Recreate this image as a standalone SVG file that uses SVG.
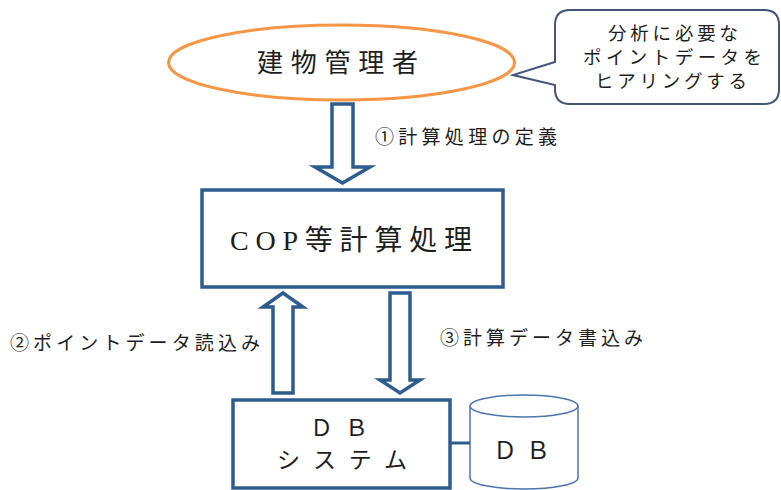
<svg xmlns="http://www.w3.org/2000/svg" width="781" height="490" viewBox="0 0 781 490">
<style>
.t{font-family:"Noto Sans CJK JP","Noto Sans",sans-serif;fill:#1e1e1e;}
.s{font-family:"Liberation Serif","Noto Sans CJK JP",serif;fill:#1e1e1e;}
.box{fill:#fff;stroke:#2E5C8E;stroke-width:3.5;}
.arr{fill:#fff;stroke:#2E5C8E;stroke-width:3.5;stroke-linejoin:miter;}
</style>
<rect width="781" height="490" fill="#fff"/>
<g id="manager">
<ellipse cx="341.5" cy="62.5" rx="173" ry="37.5" fill="#fff" stroke="#F79646" stroke-width="3"/>
<text class="t" x="257" y="72" font-size="26" textLength="161" lengthAdjust="spacing">建物管理者</text>
</g>
<g id="callout">
<path d="M570,10 H764 Q779,10 779,25 V89 Q779,104 764,104 H570 Q555,104 555,89 V85 L513,75 L555,62 V25 Q555,10 570,10 Z" fill="#fff" stroke="#44557A" stroke-width="2"/>
<text class="t" x="608" y="40" font-size="18.5" textLength="130" lengthAdjust="spacing">分析に必要な</text>
<text class="t" x="583" y="64" font-size="18.5" textLength="179" lengthAdjust="spacing">ポイントデータを</text>
<text class="t" x="595" y="88" font-size="18.5" textLength="152" lengthAdjust="spacing">ヒアリングする</text>
</g>
<g id="cop">
<rect class="box" x="202" y="190" width="301" height="97"/>
<text class="s" x="230" y="250" font-size="28" textLength="242" lengthAdjust="spacing">COP等計算処理</text>
</g>
<g id="dbsys">
<rect class="box" x="233" y="400" width="217" height="88"/>
<text class="s" x="310" y="436" font-size="23" textLength="58" lengthAdjust="spacing">ＤＢ</text>
<text class="t" x="277" y="468" font-size="23" textLength="130" lengthAdjust="spacing">システム</text>
</g>
<g id="db">
<path d="M470,406 V478 A54,11 0 0 0 578,478 V406" fill="#fff" stroke="#4A76AC" stroke-width="1.5"/>
<ellipse cx="524" cy="406" rx="54" ry="11" fill="#fff" stroke="#4A76AC" stroke-width="1.5"/>
<text class="s" x="493" y="459" font-size="24" textLength="57" lengthAdjust="spacing">ＤＢ</text>
</g>
<g id="connectors">
<polygon class="arr" points="332,104 353,104 353,167 370,167 342.5,183 315,167 332,167"/>
<polygon class="arr" points="283,293 303,307 293,307 293,393 273,393 273,307 263,307"/>
<polygon class="arr" points="390,293 410,293 410,380 420,380 400,393 380,380 390,380"/>
<line x1="450" y1="443" x2="470" y2="443" stroke="#2E5C8E" stroke-width="3"/>
<text class="t" x="375" y="144" font-size="19" textLength="182" lengthAdjust="spacing">①計算処理の定義</text>
<text class="t" x="10" y="350" font-size="19" textLength="250" lengthAdjust="spacing">②ポイントデータ読込み</text>
<text class="t" x="440" y="345" font-size="19" textLength="203" lengthAdjust="spacing">③計算データ書込み</text>
</g>
</svg>
